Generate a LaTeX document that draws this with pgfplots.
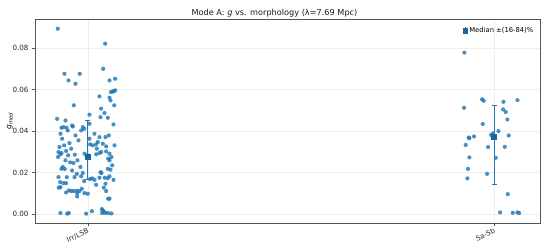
\documentclass[border=0pt]{standalone}
\usepackage{pgfplots}
\pgfplotsset{compat=1.18}
\usepackage{fontspec}
\setmainfont{DejaVu Sans}
\definecolor{tabblue}{HTML}{1F77B4}
\definecolor{spine}{HTML}{555555}
\begin{document}
\begin{tikzpicture}
\path[use as bounding box] (-35bp,-25bp) rectangle (515bp,223bp);
\begin{axis}[
  at={(0,0)}, anchor=south west,
  scale only axis, width=505bp, height=204bp,
  xmin=-0.13, xmax=1.113, ymin=-0.0043, ymax=0.094,
  xtick={0,1}, xticklabels={Irr/LSB,Sa-Sb},
  xticklabel style={rotate=25, anchor=north east, font=\fontsize{7}{8}\selectfont, text=black!85, inner sep=1.5pt},
  ytick={0,0.02,0.04,0.06,0.08},
  yticklabel style={/pgf/number format/fixed, /pgf/number format/fixed zerofill, /pgf/number format/precision=2, /pgf/number format/assume math mode=true, font=\fontsize{7.2}{8}\selectfont, text=black!85},
  scaled y ticks=false,
  tick align=outside, tick pos=left,
  major tick length=3bp,
  every tick/.style={spine, line width=0.6pt},
  axis line style={spine, line width=0.8pt},
  grid=major, major grid style={black!7, line width=0.4pt},
  clip=false,
  ylabel={\textit{g}\textsubscript{\textit{med}}},
  ylabel style={font=\fontsize{7.5}{8}\selectfont, yshift=-7bp},
  legend style={draw=none, fill=none, at={(0.993,0.975)}, anchor=north east, font=\fontsize{6.8}{8}\selectfont, inner sep=1pt},
  legend cell align=left,
]
\addplot[only marks, color=tabblue, mark=*, mark size=2.1bp, mark options={draw opacity=0, fill=tabblue, fill opacity=0.82}, forget plot] coordinates {
(-0.0739,0.0893) (-0.0575,0.0676) (-0.0476,0.0644) (-0.0304,0.0628) (-0.0197,0.0676)
(-0.0345,0.0524) (-0.0755,0.0459) (-0.0550,0.0451) (-0.0649,0.0416) (-0.0599,0.0419)
(-0.0525,0.0416) (-0.0386,0.0427) (-0.0369,0.0422) (-0.0673,0.0387) (-0.0493,0.0403)
(-0.0123,0.0419) (-0.0090,0.0411) (-0.0632,0.0363) (-0.0304,0.0379) (-0.0164,0.0403)
(-0.0698,0.0323) (-0.0583,0.0331) (-0.0452,0.0342) (-0.0230,0.0355) (-0.0722,0.0299)
(-0.0649,0.0294) (-0.0673,0.0288) (-0.0534,0.0304) (-0.0411,0.0315) (-0.0731,0.0275)
(-0.0484,0.0283) (-0.0320,0.0286) (-0.0082,0.0291) (-0.0550,0.0259) (-0.0435,0.0249)
(-0.0353,0.0246) (-0.0255,0.0259) (-0.0616,0.0227) (-0.0649,0.0218) (-0.0567,0.0217)
(-0.0181,0.0227) (-0.0386,0.0210) (-0.0271,0.0194) (-0.0123,0.0198) (-0.0722,0.0178)
(-0.0517,0.0178) (-0.0328,0.0178) (-0.0164,0.0182) (-0.0681,0.0154) (-0.0599,0.0149)
(-0.0534,0.0149) (-0.0090,0.0159) (-0.0714,0.0127) (-0.0673,0.0130) (-0.0468,0.0114)
(-0.0411,0.0111) (-0.0353,0.0111) (-0.0271,0.0112) (-0.0205,0.0111) (-0.0148,0.0122)
(-0.0534,0.0104) (-0.0263,0.0101) (-0.0082,0.0101) (-0.0263,0.0085) (-0.0673,0.0005)
(-0.0509,0.0002) (-0.0468,0.0005) (-0.0041,0.0002)
(0.0427,0.0821) (0.0378,0.0700) (0.0534,0.0644) (0.0673,0.0652) (0.0567,0.0588)
(0.0616,0.0590) (0.0640,0.0593) (0.0673,0.0596) (0.0287,0.0567) (0.0534,0.0561)
(0.0558,0.0548) (0.0649,0.0524) (0.0328,0.0508) (0.0312,0.0467) (0.0411,0.0487)
(0.0493,0.0464) (0.0632,0.0432) (0.0041,0.0435) (0.0041,0.0479) (0.0164,0.0387)
(0.0287,0.0371) (0.0435,0.0371) (0.0517,0.0379) (0.0041,0.0363) (0.0057,0.0336)
(0.0123,0.0331) (0.0205,0.0336) (0.0246,0.0347) (0.0369,0.0339) (0.0452,0.0326)
(0.0657,0.0331) (0.0222,0.0315) (0.0287,0.0294) (0.0205,0.0288) (0.0328,0.0299)
(0.0000,0.0283) (-0.0025,0.0275) (0.0025,0.0275) (0.0452,0.0302) (0.0534,0.0291)
(0.0583,0.0275) (0.0501,0.0267) (0.0534,0.0259) (0.0599,0.0235) (0.0493,0.0218)
(0.0558,0.0214) (0.0312,0.0202) (0.0337,0.0198) (0.0057,0.0169) (0.0107,0.0172)
(0.0164,0.0165) (0.0287,0.0175) (0.0419,0.0175) (0.0493,0.0173) (0.0534,0.0182)
(0.0632,0.0165) (0.0205,0.0141) (0.0435,0.0146) (0.0394,0.0127) (0.0452,0.0111)
(0.0501,0.0074) (0.0534,0.0074) (0.0000,0.0098) (0.0345,0.0024) (0.0369,0.0018)
(0.0394,0.0011) (0.0435,0.0006) (0.0501,0.0005) (0.0583,0.0003) (0.0099,0.0014)
(0.0353,0.0005)
(0.9269,0.0778) (0.9704,0.0553) (0.9745,0.0546) (1.0230,0.0541) (1.0575,0.0549)
(0.9261,0.0512) (1.0222,0.0504) (1.0287,0.0492) (1.0328,0.0456) (0.9721,0.0434)
(1.0107,0.0400) (0.9975,0.0389) (0.9926,0.0381) (1.0361,0.0379) (0.9376,0.0369)
(0.9392,0.0365) (0.9507,0.0374) (0.9302,0.0333) (0.9852,0.0323) (1.0263,0.0324)
(0.9392,0.0273) (1.0041,0.0271) (0.9360,0.0218) (0.9828,0.0194) (0.9343,0.0172)
(1.0337,0.0096) (1.0148,0.0008) (1.0460,0.0006) (1.0575,0.0008) (1.0616,0.0005)
};
\addplot[only marks, color=tabblue, mark=square*, mark size=2.6bp, mark options={draw=tabblue!85!black, fill=tabblue!85!black},
  legend image code/.code={
    \draw[tabblue, line width=0.7pt] (0.2cm,-0.12cm) -- (0.2cm,0.12cm);
    \fill[tabblue!85!black] (0.2cm,0cm) ++(-2.2bp,-2.2bp) rectangle ++(4.4bp,4.4bp);
  },
  error bars/.cd, y dir=both, y explicit, error bar style={tabblue, line width=0.7pt},
  error mark options={rotate=90, mark size=2.5bp, tabblue, line width=0.7pt}]
  coordinates {
  (0,0.0278) += (0,0.0172) -= (0,0.0113)
  (1,0.0373) += (0,0.0149) -= (0,0.0230)
  };
\addlegendentry{Median ±(16-84)\%}
\end{axis}
\node[font=\fontsize{8.2}{9}\selectfont, anchor=base, text=black!90] at (239.5bp,207bp) {Mode A: \textit{g} vs. morphology (λ=7.69 Mpc)};
\end{tikzpicture}
\end{document}
